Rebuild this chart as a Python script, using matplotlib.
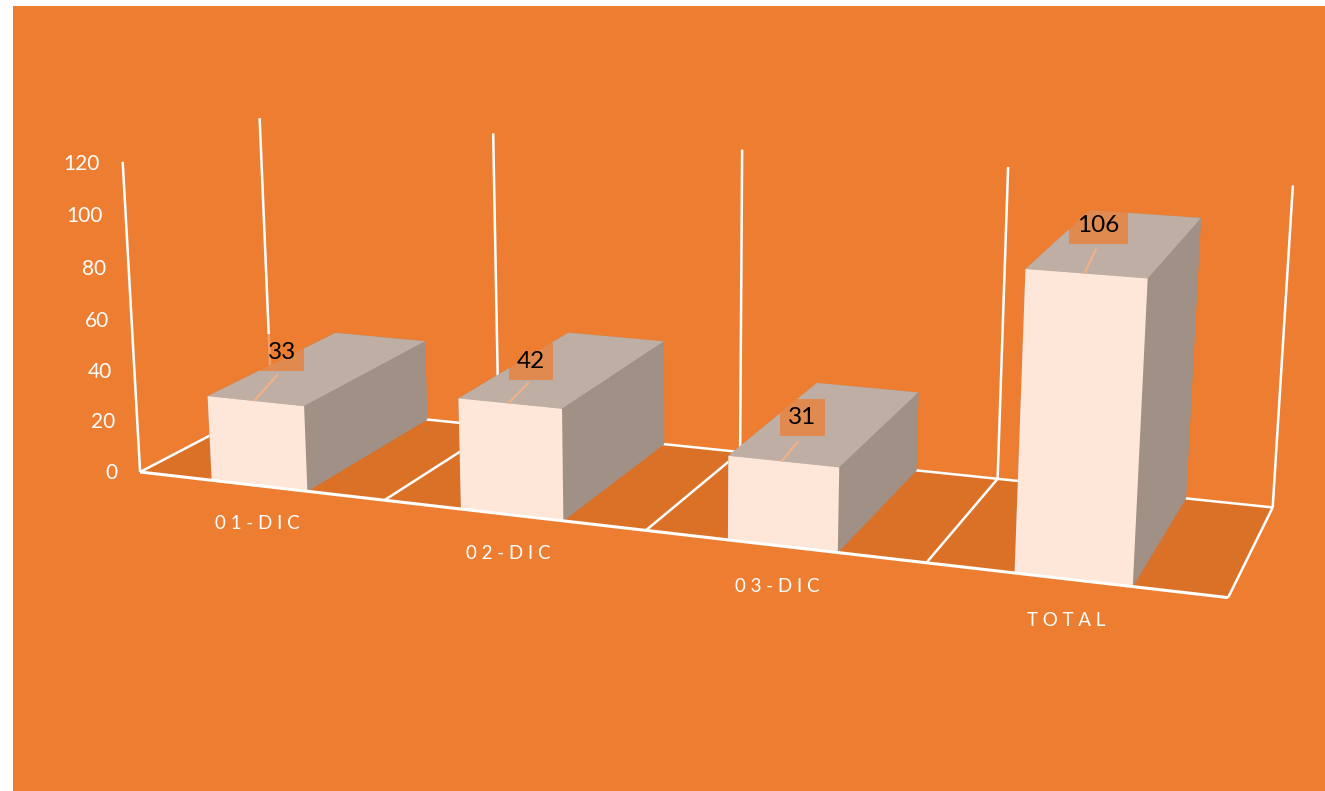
import numpy as np
import matplotlib
matplotlib.use('Agg')
import matplotlib.pyplot as plt
from mpl_toolkits.mplot3d import Axes3D
from mpl_toolkits.mplot3d.art3d import Poly3DCollection, Line3DCollection

categories = ['01-DIC', '02-DIC', '03-DIC', 'TOTAL']
values = [33, 42, 31, 106]
ticks = [0, 20, 40, 60, 80, 100, 120]
label_lift = [13, 10.5, 9.7, 12]
label_depth = [.22, .2, .225, .2]

# Camera of the chart: (category, depth, value) -> image pixels
camera = np.array([
    [2.31636098e+02, 1.56719322e+02, -1.77342746e-01, 1.40108642e+02],
    [1.17581737e+01, -3.12683302e+01, -2.62734395e+00, 4.71995391e+02],
    [-3.28670780e-02, 9.27139623e-02, -2.62235942e-04, 1.0],
])
M = np.vstack([camera[0], camera[1], camera[2] - np.array([0, 0, 0, 1.0]), camera[2]])


def project(x, y, z):
    h = camera @ np.array([x, y, z, 1.0])
    return h[0] / h[2], h[1] / h[2]


fig = plt.figure(figsize=(13.25, 7.91), dpi=100, facecolor='white')
ax = fig.add_axes([13 / 1325, 0, 1312 / 1325, 785 / 791], projection='3d', facecolor='#ED7D31')
ax.apply_aspect = lambda position=None: None
ax.get_proj = lambda: M
ax.viewLim.intervalx = (13, 1325)
ax.viewLim.intervaly = (791, 6)
ax.set_xticks([])
ax.set_yticks([])
ax.set_zticks([])
ax.set_axis_off()
ax.computed_zorder = False

n = len(values)
top = ticks[-1]

floor = Poly3DCollection([[(0, 0, 0), (n, 0, 0), (n, 1, 0), (0, 1, 0)]],
                         facecolor='#DB7027', edgecolor='none', zorder=1)
ax.add_collection3d(floor)

frame = [[(0, 1, 0), (n, 1, 0)], [(0, 0, 0), (0, 0, top)]]
for i in range(n + 1):
    frame.append([(i, 1, 0), (i, 1, top)])
    frame.append([(i, 0, 0), (i, 1, 0)])
ax.add_collection3d(Line3DCollection(frame, colors='white', linewidths=1.8, zorder=2))

xs = np.arange(n) + 0.30
face = ['#A19085', '#BFAEA3', '#FEE6D8', '#A19085', '#A19085', '#A19085']
ax.bar3d(xs, np.zeros(n), np.zeros(n), 0.392, 1, values, color=face * n, shade=False,
         edgecolor='none', linewidth=0, zorder=3)

ax.add_collection3d(Line3DCollection([[(0, 0, 0), (n, 0, 0)]], colors='white', linewidths=2.2, zorder=4))

leaders = [[(i + .49, 0, v), (i + .49, .18, v + lift - 7.5)]
           for i, (v, lift) in enumerate(zip(values, label_lift))]
ax.add_collection3d(Line3DCollection(leaders, colors='#F4B183', linewidths=1.5, zorder=5))

for i, (v, lift, depth) in enumerate(zip(values, label_lift, label_depth)):
    u, w = project(i + .49, depth, v + lift)
    ax.text2D(u, w, str(v), transform=ax.transData, ha='center', va='center', family='Lato',
              fontsize=17.5, color='black', zorder=6,
              bbox=dict(boxstyle='square,pad=0.33', fc='#ED7D31', ec='none', alpha=.73))
    u, w = project(i + .48, 0, -15)
    ax.text2D(u, w, ' '.join(categories[i]), transform=ax.transData, ha='center', va='center',
              family='Lato', fontsize=13.5, color='white', zorder=6)
for t in ticks:
    u, w = project(-.095, 0, t - 1.3)
    ax.text2D(u, w, str(t), transform=ax.transData, ha='right', va='center', family='Lato',
              fontsize=15, color='white', zorder=6)

fig.savefig('out.png', dpi=100, facecolor='white')
